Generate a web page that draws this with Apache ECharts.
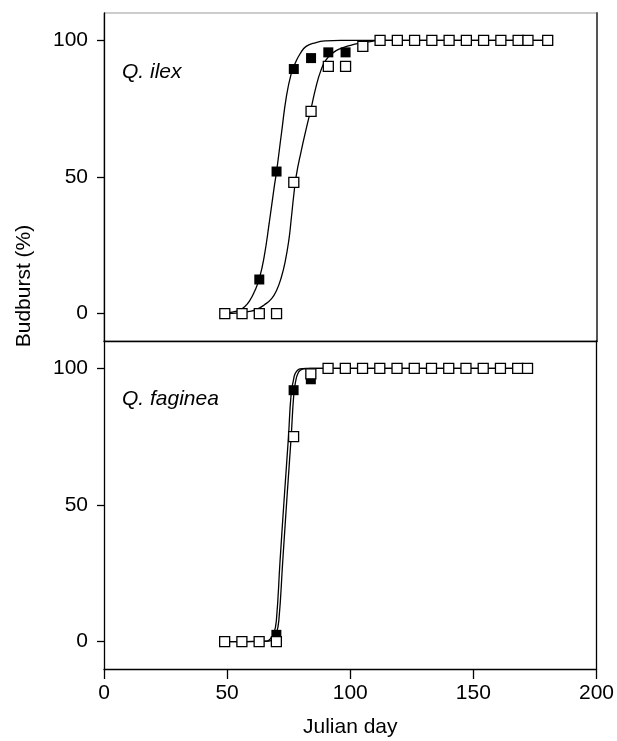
<!DOCTYPE html>
<html>
<head>
<meta charset="utf-8">
<script src="https://cdn.jsdelivr.net/npm/echarts@6/dist/echarts.min.js"></script>
<style>
  html, body { margin: 0; padding: 0; background: #fff; }
  #chart { width: 617px; height: 741px; }
</style>
</head>
<body>
<div id="chart"></div>
<script>
window.addEventListener('load', () => {

// Q. ilex - open squares
const ilexOpenDays = [49, 56, 63, 70, 77, 84, 91, 98, 105, 112, 119, 126, 133, 140, 147, 154, 161, 168, 172, 180];
const ilexOpenValues = [0, 0, 0, 0, 48, 74, 90.5, 90.5, 97.8, 100, 100, 100, 100, 100, 100, 100, 100, 100, 100, 100];
// Q. ilex - filled squares
const ilexFilledDays = [63, 70, 77, 84, 91, 98];
const ilexFilledValues = [12.5, 52, 89.5, 93.5, 95.6, 95.6];

// fitted curves
const ilexFilledCurveX = [49, 52, 55, 57, 59, 61, 63, 65, 67, 69, 70, 72, 74, 76, 77.5, 79.5, 82, 86, 90, 96, 180];
const ilexFilledCurveY = [0.3, 0.6, 1.3, 2.5, 4.6, 8, 12.8, 21, 33, 46, 52, 66, 79.5, 88, 91.5, 95, 97.8, 99.2, 99.8, 100, 100];
const ilexOpenCurveX = [49, 55, 59, 62, 65, 68, 70, 72, 73.5, 75, 76, 77, 78, 80, 82, 84, 86, 88, 90, 93, 96, 100, 104, 108, 112, 180];
const ilexOpenCurveY = [0, 0.3, 0.8, 1.6, 3.2, 5.5, 8.5, 13.5, 19, 27, 35, 43.5, 50.5, 59.5, 67.5, 75, 83, 89, 92.8, 95.5, 97, 98.2, 99, 99.5, 100, 100];

// Q. faginea
const fagOpenDays = [49, 56, 63, 70, 77, 84, 91, 98, 105, 112, 119, 126, 133, 140, 147, 154, 161, 168, 172];
const fagOpenValues = [0, 0, 0, 0, 75, 98, 100, 100, 100, 100, 100, 100, 100, 100, 100, 100, 100, 100, 100];
const fagFilledDays = [70, 77, 84];
const fagFilledValues = [2.5, 92, 96];

const fagFilledCurveX = [49, 66, 68, 69, 70, 71.5, 73.3, 74.9, 76, 77, 77.6, 78.5, 79.6, 82, 90, 172];
const fagFilledCurveY = [0, 0.2, 1.5, 3, 7.7, 29.6, 54, 74.8, 90.6, 96, 98, 99.2, 99.8, 100, 100, 100];
const fagOpenCurveX = [49, 67, 69, 70, 71, 72.6, 74.4, 76, 77.1, 78, 78.7, 79.6, 81, 84, 90, 172];
const fagOpenCurveY = [0, 0.2, 1.5, 3, 7.7, 29.6, 54, 74.8, 90.6, 96, 98, 99.2, 99.8, 100, 100, 100];

const yTicks = [0, 50, 100];

const FONT = '"Liberation Sans", Arial, sans-serif';

const zip = (xs, ys) => xs.map((x, i) => [x, ys[i]]);

const yAxisLeft = (grid) => ({
  type: 'value', gridIndex: grid, min: -10, max: 110,
  axisLine: { show: true, onZero: false, lineStyle: { color: '#000', width: 1.3 } },
  axisTick: { show: true, customValues: yTicks, length: 7, lineStyle: { color: '#000', width: 1.3 } },
  axisLabel: { customValues: yTicks, margin: 16, color: '#000', fontSize: 21, fontFamily: FONT },
  splitLine: { show: false }
});

const yAxisRight = (grid, color, width) => ({
  type: 'value', gridIndex: grid, min: -10, max: 110, position: 'right',
  axisLine: { show: true, onZero: false, lineStyle: { color: color, width: width } },
  axisTick: { show: false }, axisLabel: { show: false }, splitLine: { show: false }
});

const curve = (x, y, xi, yi) => ({
  type: 'line', xAxisIndex: xi, yAxisIndex: yi,
  data: zip(x, y), smooth: true, showSymbol: false, z: 2,
  lineStyle: { color: '#000', width: 1.3 }
});

const squares = (x, y, xi, yi, filled) => ({
  type: 'scatter', xAxisIndex: xi, yAxisIndex: yi,
  data: zip(x, y), symbol: 'rect', symbolSize: 10, z: filled ? 3 : 4,
  itemStyle: { color: filled ? '#000' : '#fff', borderColor: '#000', borderWidth: filled ? 0 : 1.3, opacity: 1 }
});

const chart = echarts.init(document.getElementById('chart'), null, { renderer: 'canvas' });

chart.setOption({
  animation: false,
  backgroundColor: '#fff',
  grid: [
    { left: 104, right: 20, top: 13, height: 328, show: true, borderColor: '#999', borderWidth: 1, backgroundColor: 'transparent' },
    { left: 104, right: 20, top: 341, height: 328 }
  ],
  xAxis: [
    {
      type: 'value', gridIndex: 0, min: 0, max: 200, interval: 50,
      axisLine: { show: true, onZero: false, lineStyle: { color: '#000', width: 1.3 } },
      axisTick: { show: false }, axisLabel: { show: false }, splitLine: { show: false }
    },
    {
      type: 'value', gridIndex: 1, min: 0, max: 200, interval: 50,
      name: 'Julian day', nameLocation: 'middle', nameGap: 48,
      nameTextStyle: { color: '#000', fontSize: 21, fontFamily: FONT },
      axisLine: { show: true, onZero: false, lineStyle: { color: '#000', width: 1.3 } },
      axisTick: { show: true, length: 10, lineStyle: { color: '#000', width: 1.3 } },
      axisLabel: { margin: 14, color: '#000', fontSize: 21, fontFamily: FONT },
      splitLine: { show: false }
    }
  ],
  yAxis: [
    yAxisLeft(0),
    yAxisLeft(1),
    yAxisRight(0, '#555', 2),
    yAxisRight(1, '#000', 1.3)
  ],
  series: [
    curve(ilexFilledCurveX, ilexFilledCurveY, 0, 0),
    curve(ilexOpenCurveX, ilexOpenCurveY, 0, 0),
    squares(ilexFilledDays, ilexFilledValues, 0, 0, true),
    squares(ilexOpenDays, ilexOpenValues, 0, 0, false),
    curve(fagFilledCurveX, fagFilledCurveY, 1, 1),
    curve(fagOpenCurveX, fagOpenCurveY, 1, 1),
    squares(fagFilledDays, fagFilledValues, 1, 1, true),
    squares(fagOpenDays, fagOpenValues, 1, 1, false)
  ],
  graphic: [
    {
      type: 'text', x: 122, y: 72,
      style: { text: 'Q. ilex', fill: '#000', font: 'italic 21px ' + FONT, verticalAlign: 'middle' }
    },
    {
      type: 'text', x: 122, y: 399,
      style: { text: 'Q. faginea', fill: '#000', font: 'italic 21px ' + FONT, verticalAlign: 'middle' }
    },
    {
      type: 'text', x: 24, y: 286, rotation: Math.PI / 2,
      style: { text: 'Budburst (%)', fill: '#000', font: '21px ' + FONT, align: 'center', verticalAlign: 'middle' }
    }
  ]
});

});
</script>
</body>
</html>
